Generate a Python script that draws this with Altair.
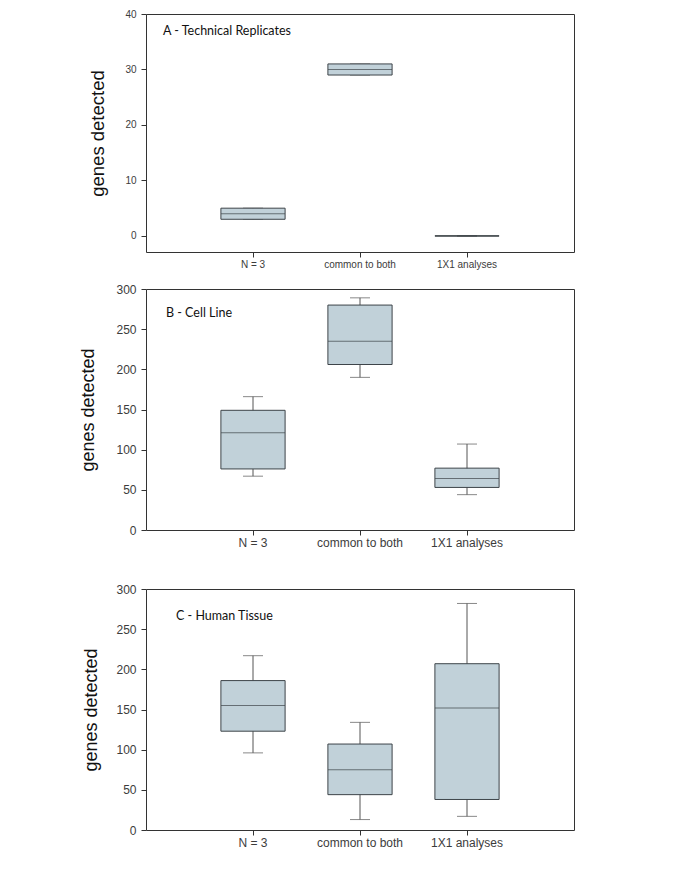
import altair as alt
import pandas as pd

categories = ["N = 3", "common to both", "1X1 analyses"]

# Panel A - Technical Replicates
a_lo = [3, 29, 0]
a_q1 = [3, 29, 0]
a_med = [4, 30, 0]
a_q3 = [5, 31, 0]
a_hi = [5, 31, 0]

# Panel B - Cell Line
b_lo = [67, 190, 44]
b_q1 = [76, 206, 53]
b_med = [121, 235, 64]
b_q3 = [149, 280, 77]
b_hi = [166, 289, 107]

# Panel C - Human Tissue
c_lo = [96, 13, 17]
c_q1 = [123, 44, 38]
c_med = [155, 75, 152]
c_q3 = [186, 107, 207]
c_hi = [217, 134, 282]

a_ticks = [0, 10, 20, 30, 40]
bc_ticks = [0, 50, 100, 150, 200, 250, 300]

FILL = "#c1d1d9"
STROKE = "#3d4449"
W = 428


def panel(lo, q1, med, q3, hi, domain, ticks, label, label_y, label_dx,
          fs, title_fs, title_pad, h):
    df = pd.DataFrame({"cat": categories, "lo": lo, "q1": q1, "med": med,
                       "q3": q3, "hi": hi})
    xenc = alt.X("cat:N", sort=categories,
                 scale=alt.Scale(paddingInner=0.4, paddingOuter=0.7),
                 axis=alt.Axis(title=None, labelAngle=0, domain=False,
                               labelFont="Liberation Sans", labelFontSize=fs,
                               labelColor="#3c3c3c", tickColor="#333333",
                               tickSize=5, labelPadding=2))
    yscale = alt.Scale(domain=domain, nice=False, zero=False)
    yaxis = alt.Axis(title="genes detected", values=ticks, grid=False,
                     domain=False, tickSize=5, tickColor="#333333",
                     labelFont="Liberation Sans", labelFontSize=fs,
                     labelColor="#3c3c3c", labelPadding=5,
                     titleFont="Liberation Sans Narrow, Liberation Sans, sans-serif",
                     titleFontSize=title_fs, titleFontWeight="normal",
                     titleColor="#111111", titlePadding=title_pad)
    base = alt.Chart(df).encode(x=xenc)
    whisk = base.mark_rule(color="#555555", strokeWidth=1).encode(
        y=alt.Y("lo:Q", scale=yscale, axis=yaxis), y2="hi:Q")
    cap_lo = base.mark_tick(orient="horizontal", size=20, thickness=1,
                            color="#555555").encode(y="lo:Q")
    cap_hi = base.mark_tick(orient="horizontal", size=20, thickness=1,
                            color="#555555").encode(y="hi:Q")
    box = base.mark_bar(fill=FILL, stroke=STROKE, strokeWidth=1).encode(
        y="q1:Q", y2="q3:Q")
    median = base.mark_tick(orient="horizontal", size=64, thickness=1,
                            color=STROKE).encode(y="med:Q")
    txt = alt.Chart(pd.DataFrame({"t": [label]})).mark_text(
        align="left", baseline="middle", font="Lato", fontSize=12.5,
        color="#111111").encode(x=alt.value(label_dx), y=alt.datum(label_y),
                                text="t:N")
    return alt.layer(whisk, cap_lo, cap_hi, box, median, txt).properties(
        width=W, height=h)


pa = panel(a_lo, a_q1, a_med, a_q3, a_hi, [-2.9, 40], a_ticks,
           "A - Technical Replicates", 37.0, 17, 10, 18.5, 17, 238)
pb = panel(b_lo, b_q1, b_med, b_q3, b_hi, [0, 300], bc_ticks,
           "B - Cell Line", 270, 20, 12, 18, 18, 241)
pc = panel(c_lo, c_q1, c_med, c_q3, c_hi, [0, 300], bc_ticks,
           "C - Human Tissue", 267, 30, 12, 18, 15, 241)

chart = alt.vconcat(alt.vconcat(pa, pb, spacing=12), pc, spacing=33).properties(
    padding={"left": 71, "top": 0, "right": 5, "bottom": 5}
).configure_view(stroke="#333333", strokeWidth=1)

chart.save("out.html", embed_options={"renderer": "svg", "actions": False})
